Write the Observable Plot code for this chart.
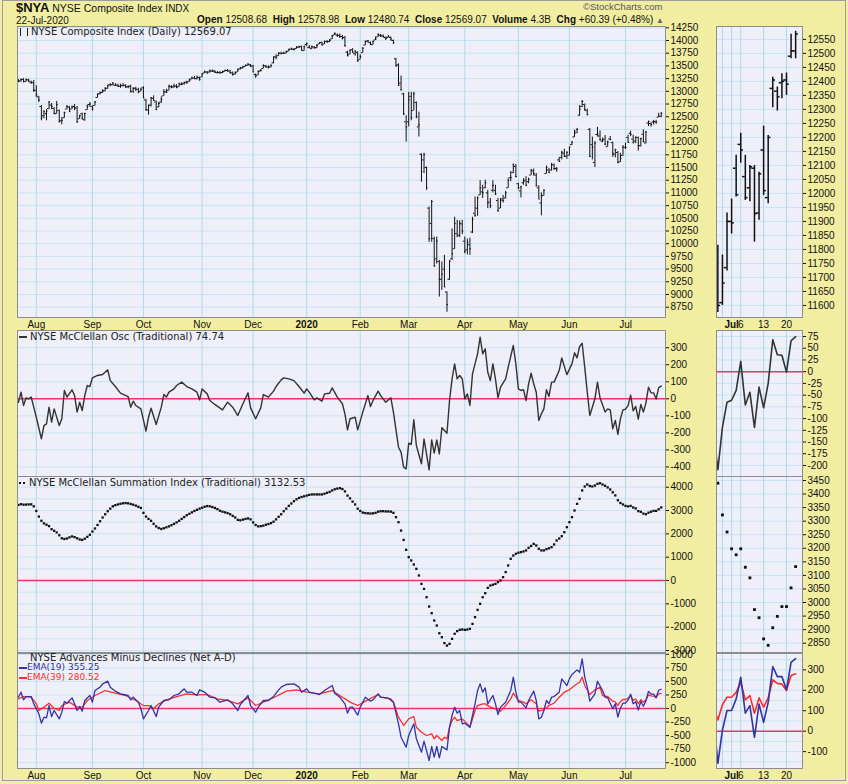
<!DOCTYPE html>
<html><head><meta charset="utf-8">
<script src="https://cdn.jsdelivr.net/npm/d3@7"></script>
<script src="https://cdn.jsdelivr.net/npm/@observablehq/plot@0.6"></script>
<style>
body{margin:0;background:#fff;}
#chart{position:relative;width:848px;height:784px;background:#f1eea2;overflow:hidden;font-family:"Liberation Sans",Arial,sans-serif;color:#111;}
#chart svg.pp{position:absolute;overflow:visible;}
.t{position:absolute;white-space:nowrap;font-size:10px;line-height:12px;}
.pl{position:absolute;white-space:nowrap;font-family:"DejaVu Sans";font-size:10px;line-height:10px;color:#222;}
.ic{display:inline-block;vertical-align:middle;}
</style></head><body><div id="chart"></div>
<script>
// ---------- data (trading-day index 1 = 23-Jul-2019 ... 253 = 22-Jul-2020) ----------
const monthDays = [8,30,50,73,93,114,135,154,176,197,217,239];
const monthLabels = ["Aug","Sep","Oct","Nov","Dec","2020","Feb","Mar","Apr","May","Jun","Jul"];
const zoomTickDays = [239,241,246,251];
const zoomTickLabels = ["Jul","6","13","20"];
const zoomGridDays = [237,239,241,246,251];

const priceTicks = [14250,14000,13750,13500,13250,13000,12750,12500,12250,12000,11750,11500,11250,11000,10750,10500,10250,10000,9750,9500,9250,9000,8750];
const zoomPriceTicks = [12550,12500,12450,12400,12350,12300,12250,12200,12150,12100,12050,12000,11950,11900,11850,11800,11750,11700,11650,11600];
const oscTicks = [300,200,100,0,-100,-200,-300,-400];
const zoomOscTicks = [75,50,25,0,-25,-50,-75,-100,-125,-150,-175,-200];
const sumTicks = [4000,3000,2000,1000,0,-1000,-2000,-3000];
const sumGrid = [4000,3500,3000,2500,2000,1500,1000,500,0,-500,-1000,-1500,-2000,-2500,-3000];
const zoomSumTicks = [3450,3400,3350,3300,3250,3200,3150,3100,3050,3000,2950,2900,2850];
const adTicks = [1000,750,500,250,0,-250,-500,-750,-1000];
const zoomAdTicks = [300,200,100,0,-100];
const zoomAdGrid = [350,300,250,200,150,100,50,0,-50,-100,-150];

const priceOpen = [
13190,13200,13235,13195,13225,13180,13170,13020,12890,12700,
12520,12560,12660,12730,12660,12560,12620,12420,12480,12650,
12690,12650,12700,12670,12460,12560,12440,12640,12740,12700,
12720,12880,12950,12980,13010,13060,13130,13130,13120,13120,
13100,13110,13120,13090,13100,13000,13060,13040,13000,13070,
12830,12630,12730,12860,12790,12690,12790,12910,12990,13020,
13090,13090,13100,13090,13140,13150,13180,13190,13240,13260,
13250,13270,13280,13360,13380,13380,13400,13400,13370,13370,
13370,13390,13410,13400,13360,13340,13380,13440,13460,13490,
13510,13520,13500,13330,13320,13400,13450,13500,13480,13480,
13560,13680,13700,13750,13750,13750,13790,13830,13830,13840,
13870,13880,13800,13920,13860,13840,13870,13860,13930,13960,
13930,13980,13980,14030,14110,14110,14100,14080,14060,13770,
13730,13820,13740,13760,13630,13760,13910,13990,13960,13920,
14010,14070,14100,14090,14060,14060,14060,14000,13640,13520,
13160,12950,12400,12400,12900,12620,12780,12300,11760,11650,
11500,10700,10400,10100,9700,9650,9300,9500,9050,9300,
9700,9900,10200,10170,10390,10050,9880,9980,10230,10600,
10700,10960,11020,11100,11000,10820,11050,11050,10850,10700,
10880,10900,11100,11300,11400,11520,11180,11040,11200,11250,
11220,11350,11430,11350,11100,10800,10950,11380,11450,11450,
11550,11480,11650,11700,11780,11720,11740,11950,12100,12180,
12530,12700,12740,12620,12250,11950,11600,12150,12120,12020,
12060,11910,12060,11990,11760,11795,11610,11735,11900,12090,
12175,12060,12020,12090,11930,12155,11985,12375,12365,12395,
12405,12490,12508.68];
const priceHigh = [
13230,13245,13250,13240,13235,13200,13210,13110,12900,12720,
12620,12640,12800,12760,12680,12800,12630,12480,12590,12720,
12700,12710,12740,12700,12530,12570,12570,12730,12780,12710,
12800,12950,12990,13030,13070,13120,13150,13170,13150,13140,
13140,13150,13130,13110,13120,13070,13080,13060,13060,13090,
12840,12730,12880,12910,12810,12780,12890,13030,13040,13120,
13110,13140,13130,13160,13170,13180,13200,13240,13280,13290,
13300,13280,13350,13400,13390,13420,13420,13410,13390,13390,
13400,13420,13430,13410,13380,13380,13440,13470,13490,13520,
13550,13530,13510,13340,13400,13430,13520,13510,13500,13520,
13680,13720,13760,13770,13770,13790,13830,13850,13840,13880,
13890,13890,13890,13950,13900,13890,13880,13920,13960,13970,
13990,14000,14020,14100,14150,14130,14130,14100,14080,13790,
13820,13840,13800,13780,13720,13860,13990,14000,13970,13990,
14070,14130,14120,14110,14070,14100,14070,14010,13650,13540,
13300,12960,12520,12980,12980,12980,12790,12590,11770,11780,
11510,10720,10850,10130,10130,9670,9640,9770,9050,9670,
10290,10520,10460,10450,10460,10130,10090,10110,10520,10920,
10920,11240,11150,11250,11050,10890,11240,11150,10890,10890,
10950,11030,11280,11420,11570,11560,11190,11130,11280,11320,
11290,11460,11470,11380,11140,11000,11060,11530,11480,11580,
11570,11500,11700,11820,11860,11810,11900,12010,12230,12270,
12720,12820,12750,12650,12270,12100,12010,12290,12220,12080,
12130,12020,12110,12000,11860,11815,11780,11930,11980,12136,
12215,12136,12100,12100,12076,12240,12207,12415,12380,12427,
12430,12568,12578.98];
const priceLow = [
13170,13180,13170,13180,13180,13140,12980,12880,12780,12420,
12460,12420,12640,12640,12540,12550,12380,12340,12470,12640,
12590,12640,12620,12370,12450,12440,12410,12630,12690,12610,
12710,12870,12930,12960,12990,13040,13090,13110,13100,13080,
13060,13090,13060,13050,12970,12960,13000,12950,12990,12860,
12610,12530,12690,12810,12630,12680,12760,12900,12960,13010,
13050,13060,13050,13080,13110,13120,13140,13180,13230,13230,
13220,13200,13270,13350,13340,13360,13370,13350,13340,13340,
13350,13380,13380,13340,13300,13320,13370,13420,13440,13480,
13500,13470,13370,13260,13310,13380,13440,13460,13440,13460,
13540,13620,13690,13720,13730,13740,13780,13810,13800,13830,
13850,13800,13790,13880,13840,13820,13840,13840,13920,13900,
13920,13950,13960,14020,14100,14060,14040,14010,13870,13680,
13720,13750,13690,13570,13620,13750,13900,13950,13900,13910,
14000,14060,14060,14050,14000,14050,13990,13920,13480,13100,
13010,12520,12000,12300,12420,12620,12460,12100,11210,11380,
11050,10030,10030,9540,9600,8950,9080,9140,8650,9280,
9670,9890,10130,10120,10180,9800,9780,9770,10200,10520,
10540,10950,10890,11080,10690,10690,11000,10950,10620,10690,
10800,10880,11090,11220,11380,11300,11060,10900,11150,11130,
11180,11340,11330,11120,10880,10550,10940,11370,11380,11430,
11440,11410,11600,11650,11700,11660,11730,11930,12090,12170,
12510,12680,12610,12520,11700,11650,11500,12100,12020,11990,
11930,11900,12030,11700,11690,11575,11600,11723,11855,11987,
12108,11975,11970,11826,11904,11993,11963,12306,12294,12338,
12350,12481,12480.74];
const priceClose = [
13210,13230,13190,13230,13200,13170,13020,12930,12830,12480,
12600,12610,12790,12700,12570,12740,12400,12430,12580,12700,
12600,12690,12680,12400,12520,12460,12560,12710,12750,12650,
12790,12940,12970,13010,13060,13110,13130,13160,13120,13100,
13120,13110,13080,13090,12990,13060,13040,12990,13040,12870,
12640,12720,12870,12820,12640,12760,12840,12990,12980,13100,
13080,13110,13080,13150,13140,13170,13170,13220,13260,13250,
13280,13230,13340,13380,13360,13400,13390,13380,13370,13360,
13380,13410,13400,13370,13330,13360,13430,13460,13480,13510,
13530,13490,13380,13300,13390,13410,13510,13480,13470,13510,
13660,13670,13750,13740,13750,13780,13820,13830,13820,13860,
13870,13810,13880,13940,13870,13880,13850,13900,13950,13910,
13980,13970,14000,14090,14140,14100,14080,14050,13900,13700,
13800,13770,13790,13600,13680,13850,13980,13990,13930,13980,
14030,14120,14090,14080,14040,14080,14030,13960,13500,13120,
13030,12560,12300,12830,12480,12950,12500,12340,11420,11750,
11100,10100,10830,9560,10050,9300,9400,9150,8800,9650,
9800,10400,10150,10400,10250,9850,10030,9900,10480,10560,
10900,11100,11000,11200,10800,10750,11150,10980,10650,10850,
10850,11000,11250,11300,11550,11320,11100,11120,11230,11150,
11270,11450,11380,11140,10880,10940,11050,11500,11400,11560,
11480,11470,11620,11800,11720,11800,11900,12000,12220,12250,
12650,12800,12640,12540,11720,11900,11980,12160,12050,12040,
11960,12000,12050,11780,11850,11600,11680,11900,11895,11995,
12155,11985,12095,11928,12070,12010,12200,12405,12345,12400,
12390,12509,12569.07];

const summation = [
3240,3270,3250,3255,3260,3265,3180,2980,2740,2560,
2450,2390,2330,2200,2130,2060,1940,1810,1780,1800,
1850,1890,1860,1810,1760,1740,1790,1870,1960,2100,
2230,2380,2540,2700,2840,2970,3080,3180,3230,3260,
3290,3310,3320,3310,3280,3250,3210,3160,3110,2900,
2740,2640,2560,2430,2320,2250,2210,2240,2280,2320,
2370,2430,2490,2560,2640,2720,2800,2860,2920,2980,
3030,3080,3120,3160,3190,3180,3150,3110,3060,2990,
2950,2920,2890,2840,2770,2700,2600,2580,2610,2640,
2660,2620,2490,2380,2320,2330,2350,2390,2420,2460,
2520,2620,2730,2840,2970,3080,3200,3300,3400,3480,
3540,3580,3610,3640,3670,3690,3690,3690,3690,3690,
3720,3760,3800,3860,3910,3940,3960,3920,3820,3640,
3520,3380,3260,3080,2980,2910,2890,2880,2870,2880,
2900,2950,2970,2970,2960,2960,2950,2900,2715,2500,
2140,1740,1315,1000,860,685,500,215,-145,-360,
-715,-1115,-1400,-1715,-1930,-2260,-2430,-2685,-2790,-2715,
-2500,-2285,-2170,-2115,-2100,-2115,-2100,-2070,-1860,-1570,
-1260,-1000,-715,-545,-315,-215,-180,-145,-70,0,
145,360,645,930,1070,1145,1190,1215,1245,1290,
1400,1480,1570,1500,1360,1290,1290,1345,1380,1430,
1545,1715,1800,1900,2070,2285,2500,2715,3000,3285,
3500,3860,4030,4115,4050,4030,4070,4145,4170,4115,
4060,3990,3900,3780,3649,3440,3323,3260,3198,3176,
3198,3130,3091,2974,2944,2866,2842,2907,2949,2985,
2985,3054,3132.53];

const oscDay = [1,2,3,4,5,6,7,8,10,11,12,13,14,15,17,18,19,20,22,23,24,25,26,27,28,29,30,32,34,36,37,39,41,44,45,46,47,49,51,52,53,55,57,58,59,60,62,63,65,67,69,71,72,73,75,76,78,81,83,85,87,89,91,92,94,96,97,99,101,102,104,105,107,109,111,113,114,115,117,118,120,121,123,124,126,128,129,130,131,133,134,136,138,139,140,142,143,145,147,148,150,151,152,153,154,155,156,157,159,160,162,163,164,165,166,167,169,170,171,172,173,174,175,176,177,178,179,181,182,183,184,185,186,187,188,189,190,192,193,195,196,197,198,199,200,201,202,203,204,205,206,207,208,209,210,211,213,214,216,218,219,220,221,222,223,224,225,227,228,229,231,232,233,234,235,236,237,238,239,240,241,242,243,244,245,246,247,248,249,250,251,252,253];
const oscVal = [-20,39,-39,6,0,10,-49,-108,-235,-157,-147,-49,-137,-59,-157,-117,49,10,53,19,-78,-20,-69,19,78,72,123,137,143,170,107,72,33,13,-49,-14,-39,-59,-190,-108,-55,-151,-49,25,10,39,58,78,98,72,58,39,-6,58,29,-10,-33,-65,-20,-49,-98,-29,35,-53,-117,-53,25,10,45,72,111,123,117,107,72,33,58,39,-6,6,-14,29,33,64,10,-29,-88,-182,-117,-108,-182,-78,19,-45,-10,45,19,-20,6,-78,-284,-313,-401,-411,-260,-268,-123,-274,-381,-235,-417,-241,-319,-241,-323,-170,-202,-10,117,205,117,137,117,0,29,-39,146,264,362,264,293,156,107,205,117,6,68,117,186,313,205,58,49,53,-10,88,150,88,39,-127,-88,-59,53,14,98,98,166,240,142,205,270,240,307,326,186,39,-98,0,98,6,-78,-59,-65,-176,-127,-209,-118,-65,-61,-40,22,-71,-44,-119,-33,-77,-25,68,36,35,-1,66,74.74];

const emaFastDay = [1,2,3,4,6,7,9,10,11,12,13,14,15,17,18,19,20,22,23,24,25,26,27,29,30,31,33,34,36,37,39,41,44,45,46,48,49,50,52,53,55,56,58,60,62,64,66,67,69,71,72,74,76,78,80,83,85,87,88,91,92,94,95,97,99,101,102,104,106,109,111,112,114,115,118,119,121,124,125,127,129,130,131,132,134,135,137,139,140,142,143,146,148,150,151,153,154,156,157,159,160,162,163,164,165,166,167,169,170,171,172,173,174,175,176,178,180,181,182,183,184,185,187,188,189,190,192,194,195,196,197,198,200,201,203,204,205,206,207,208,209,210,211,213,214,216,217,218,220,221,222,223,224,225,227,228,230,231,232,234,235,236,237,238,239,240,241,242,243,244,245,246,247,248,249,250,251,252,253];
const emaFastVal = [209,301,160,221,221,86,-98,-270,-160,-172,55,-148,-37,-191,-68,129,98,197,86,-37,37,-49,148,240,117,332,394,455,504,394,320,271,240,160,209,117,0,-191,-37,55,-148,25,148,160,240,271,363,301,301,240,344,301,209,197,117,160,86,-37,74,240,55,-68,25,148,148,221,283,394,443,455,394,301,363,301,271,258,332,424,283,209,86,-86,25,25,-123,25,209,135,160,271,209,190,117,-283,-529,-714,-498,-283,-560,-806,-603,-960,-701,-898,-701,-910,-701,-763,-345,-129,25,-86,-37,-283,-271,-345,86,332,455,301,381,86,240,86,-111,25,117,332,578,301,117,117,12,148,320,148,-191,-160,-37,148,86,209,221,301,547,424,547,627,713,670,916,578,394,135,271,504,332,209,197,-6,86,-157,6,101,101,158,264,88,125,-30,133,43,141,316,267,267,202,337,355.25];

const emaSlowDay = [1,3,6,8,9,11,13,15,17,18,21,24,26,28,31,35,39,43,47,50,52,54,56,59,63,67,71,75,79,83,87,91,94,98,102,106,110,114,119,124,127,131,134,138,142,143,147,148,150,152,154,156,157,159,161,163,164,165,167,168,169,170,171,172,173,175,177,178,180,181,183,184,186,188,190,192,194,195,197,199,200,202,204,205,207,209,211,213,215,217,219,221,222,223,225,227,229,230,232,234,235,236,237,238,239,240,241,242,243,244,245,246,247,248,249,250,251,252,253];
const emaSlowVal = [178,221,209,86,-37,25,98,0,-37,55,117,25,25,148,240,332,283,240,148,55,55,0,86,160,221,271,252,258,178,148,86,197,55,135,221,320,344,301,271,332,240,117,55,160,258,209,178,117,-160,-314,-191,-148,-345,-437,-498,-468,-560,-498,-590,-529,-560,-345,-222,-160,-222,-191,-283,-345,-37,55,86,86,25,-6,-49,55,178,283,148,117,86,160,86,-49,-25,55,98,209,301,344,424,486,578,424,258,344,394,240,221,135,120,55,130,166,166,190,239,153,174,88,163,117,163,251,234,230,199,272,280.52];

// ---------- helpers ----------
const BG = "#eeeff8", GRID = "#c4e6f2", VGRID = "#aadcec", FRAME = "#8d8d8d", ZERO = "#e8356c";
const BLUE = "#3333a8", RED = "#ff2b2b";
const chart = document.getElementById("chart");
const LEFTX = [0.63, 254.67], RIGHTX = [235.7, 254.5];

const bars = priceClose.map((c, k) => ({day: k + 1, open: priceOpen[k], high: priceHigh[k], low: priceLow[k], close: c}));
const zoomBars = bars.filter(d => d.day >= 236);
const sumRows = summation.map((v, k) => ({day: k + 1, v}));
const zoomSumRows = sumRows.filter(d => d.day >= 236);
const oscRows = oscDay.map((d, k) => ({day: d, v: oscVal[k]}));
const fastRows = emaFastDay.map((d, k) => ({day: d, v: emaFastVal[k]}));
const slowRows = emaSlowDay.map((d, k) => ({day: d, v: emaSlowVal[k]}));

function panel(o) {
  const left = o.side === "L";
  const width = left ? 712 : 148, mL = left ? 17 : 16, mR = left ? 47 : 46;
  const mT = 8, mB = o.xTicks ? 16 : 8;
  const svg = Plot.plot({
    width, height: mT + o.frameH + mB,
    marginLeft: mL, marginRight: mR, marginTop: mT, marginBottom: mB,
    x: {domain: left ? LEFTX : RIGHTX, axis: o.xTicks ? "bottom" : null, ticks: o.xTicks,
        tickFormat: d => o.xLabels[o.xTicks.indexOf(d)], tickSize: 0, tickPadding: 3, label: null},
    y: {domain: o.yDom, axis: "right", ticks: o.yTicks, tickFormat: d => String(d), tickSize: 3, tickPadding: 2, label: null},
    style: {background: "transparent", fontSize: "10px", fontFamily: "Liberation Sans, Arial, sans-serif", color: "#111", overflow: "visible"},
    marks: [
      Plot.frame({fill: BG, stroke: null}),
      Plot.ruleY(o.yGrid, {stroke: GRID, strokeWidth: 1}),
      Plot.ruleX(left ? monthDays : zoomGridDays, {stroke: VGRID, strokeWidth: 1}),
      ...o.marks,
      Plot.frame({stroke: FRAME})
    ]
  });
  svg.classList.add("pp");
  svg.style.left = (left ? 0 : 700) + "px";
  svg.style.top = (o.frameTop - mT) + "px";
  svg.querySelectorAll("text").forEach(t => {
    if (t.textContent === "2020" || (!left && t.textContent === "Jul")) t.setAttribute("font-weight", "bold");
  });
  chart.appendChild(svg);
}

function barMarks(rows, w, tick) {
  return [
    Plot.ruleX(rows, {x: "day", y1: "low", y2: "high", stroke: "#111", strokeWidth: w, clip: true}),
    Plot.ruleY(rows, {y: "open", x1: d => d.day - tick, x2: "day", stroke: "#111", strokeWidth: w, clip: true}),
    Plot.ruleY(rows, {y: "close", x1: "day", x2: d => d.day + tick, stroke: "#111", strokeWidth: w, clip: true})
  ];
}

// price
panel({side: "L", frameTop: 26, frameH: 291, yDom: [8547, 14276], yTicks: priceTicks, yGrid: priceTicks,
  xTicks: monthDays, xLabels: monthLabels, marks: barMarks(bars, 1, 0.6)});
panel({side: "R", frameTop: 26, frameH: 291, yDom: [11557, 12596], yTicks: zoomPriceTicks, yGrid: zoomPriceTicks,
  xTicks: zoomTickDays, xLabels: zoomTickLabels, marks: barMarks(zoomBars, 1.5, 0.6)});
// oscillator
const oscMarks = w => [Plot.ruleY([0], {stroke: ZERO, strokeWidth: 1.5}),
  Plot.line(oscRows, {x: "day", y: "v", stroke: "#333", strokeWidth: w, clip: true})];
panel({side: "L", frameTop: 330, frameH: 146, yDom: [-456, 401], yTicks: oscTicks, yGrid: oscTicks, marks: oscMarks(1.4)});
panel({side: "R", frameTop: 330, frameH: 146, yDom: [-223.5, 87.8], yTicks: zoomOscTicks, yGrid: zoomOscTicks, marks: oscMarks(1.6)});
// summation
panel({side: "L", frameTop: 476, frameH: 176, yDom: [-3086, 4458], yTicks: sumTicks, yGrid: sumGrid,
  marks: [Plot.ruleY([0], {stroke: ZERO, strokeWidth: 1.5}),
          Plot.dot(sumRows, {x: "day", y: "v", symbol: "square", r: 1.3, fill: "#111", stroke: null})]});
panel({side: "R", frameTop: 476, frameH: 176, yDom: [2815.7, 3464.7], yTicks: zoomSumTicks, yGrid: zoomSumTicks,
  marks: [Plot.dot(zoomSumRows, {x: "day", y: "v", symbol: "square", r: 1.6, fill: "#111", stroke: null})]});
// advances - declines
const adMarks = w => [Plot.ruleY([0], {stroke: ZERO, strokeWidth: 1.5}),
  Plot.line(slowRows, {x: "day", y: "v", stroke: RED, strokeWidth: w, clip: true}),
  Plot.line(fastRows, {x: "day", y: "v", stroke: BLUE, strokeWidth: w, clip: true})];
panel({side: "L", frameTop: 653, frameH: 115, yDom: [-1107, 1015], yTicks: adTicks, yGrid: adTicks,
  xTicks: monthDays, xLabels: monthLabels, marks: adMarks(1.3)});
panel({side: "R", frameTop: 653, frameH: 115, yDom: [-182.6, 380], yTicks: zoomAdTicks, yGrid: zoomAdGrid,
  xTicks: zoomTickDays, xLabels: zoomTickLabels, marks: adMarks(1.6)});

// ---------- texts ----------
function addText(html, cls, left, top, extra) {
  const d = document.createElement("div");
  d.className = cls; d.innerHTML = html;
  if (left !== null) d.style.left = left + "px";
  d.style.top = top + "px";
  if (extra) Object.assign(d.style, extra);
  chart.appendChild(d);
}
const border = document.createElement("div");
Object.assign(border.style, {position: "absolute", left: "2px", top: "0px", width: "844px", height: "781px", border: "1px solid #9c9c9c", boxSizing: "border-box"});
chart.appendChild(border);

addText('<b style="font-size:13px;font-family:\'Liberation Sans Narrow\',\'Liberation Sans\',Arial">$NYA</b> <span style="font-size:10.5px">NYSE Composite Index</span> <span style="font-size:10px">INDX</span>', "t", 16, 1, {lineHeight: "13px"});
addText('22-Jul-2020', "t", 16, 15);
addText('<b>Open</b> 12508.68 &nbsp;<b>High</b> 12578.98 &nbsp;<b>Low</b> 12480.74 &nbsp;<b>Close</b> 12569.07 &nbsp;<b>Volume</b> 4.3B &nbsp;<b>Chg</b> +60.39 (+0.48%) <span style="color:#666;font-size:8px">&#9650;</span>', "t", null, 14, {right: "184px"});
addText('&copy;StockCharts.com', "t", 583, 1, {color: "#555", fontSize: "9.5px"});

const bar2 = '<span class="ic" style="width:6px;height:8px;margin-right:3px;border-left:1px solid #222;border-right:1px solid #222;"></span>';
addText(bar2 + 'NYSE Composite Index (Daily) 12569.07', "pl", 20, 27);
addText('<span class="ic" style="width:8px;height:2px;background:#333;margin-right:3px;"></span>NYSE McClellan Osc (Traditional) 74.74', "pl", 19, 332);
addText('<span class="ic" style="width:2px;height:2px;background:#111;margin-right:2px;"></span><span class="ic" style="width:2px;height:2px;background:#111;margin-right:4px;"></span>NYSE McClellan Summation Index (Traditional) 3132.53', "pl", 19, 478);
addText('NYSE Advances Minus Declines (Net A-D)', "pl", 30, 653);
addText('<span class="ic" style="width:8px;height:2px;background:' + BLUE + ';"></span>EMA(19) 355.25', "pl", 19, 663, {color: BLUE, fontSize: "9px", lineHeight: "9px"});
addText('<span class="ic" style="width:8px;height:2px;background:' + RED + ';"></span>EMA(39) 280.52', "pl", 19, 673, {color: RED, fontSize: "9px", lineHeight: "9px"});
</script></body></html>
